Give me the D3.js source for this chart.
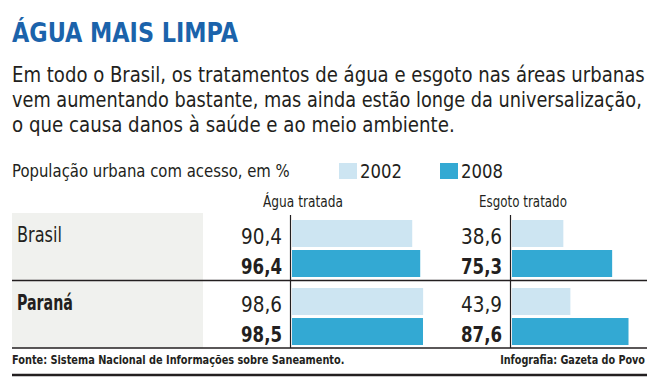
<!DOCTYPE html>
<html>
<head>
<meta charset="utf-8">
<title>Água mais limpa</title>
<script src="https://cdn.jsdelivr.net/npm/d3@7/dist/d3.min.js"></script>
<style>
  body { margin: 0; background: #fff; }
  svg text { font-family: "Liberation Sans Narrow", "DejaVu Sans Condensed", Roboto, "Open Sans", sans-serif; fill: #231f20; }
</style>
</head>
<body>
<script>
// Data
var regions = ["Brasil", "Paraná"];
var years = ["2002", "2008"];
var agua2002 = [90.4, 98.6];
var agua2008 = [96.4, 98.5];
var esgoto2002 = [38.6, 43.9];
var esgoto2008 = [75.3, 87.6];
var panels = ["Água tratada", "Esgoto tratado"];

var width = 660, height = 385;
var light = "#cde5f2", dark = "#33a9d3";

var br = d3.formatLocale({decimal: ",", thousands: ".", grouping: [3], currency: ["R$", ""]});
var fmt = br.format(".1f");

var svg = d3.select("body").append("svg")
    .attr("width", width)
    .attr("height", height);

// text helper: squeezes horizontally to a given width (condensed look of the original)
function txt(x, y, s, size, len, opts) {
    opts = opts || {};
    var t = svg.append("text")
        .attr("x", 0).attr("y", 0)
        .attr("font-size", size)
        .attr("font-weight", opts.weight || "normal")
        .attr("text-anchor", opts.anchor || "start")
        .style("fill", opts.color || "#231f20")
        .text(s);
    var k = 1;
    if (len) {
        var natural = t.node().getComputedTextLength();
        if (natural > 0) k = len / natural;
    }
    t.attr("transform", "translate(" + x + "," + y + ") scale(" + k + ",1)");
    return t;
}

// Header
txt(12, 42, "ÁGUA MAIS LIMPA", 27, 226, {weight: "bold", color: "#1b63ab"});
txt(12, 82, "Em todo o Brasil, os tratamentos de água e esgoto nas áreas urbanas", 22, 633);
txt(12, 107, "vem aumentando bastante, mas ainda estão longe da universalização,", 22, 630);
txt(12, 132, "o que causa danos à saúde e ao meio ambiente.", 22, 443);
txt(12, 177, "População urbana com acesso, em %", 17, 278);

// Legend
var legend = d3.scaleOrdinal().domain(years).range([339, 440]);
var color = d3.scaleOrdinal().domain(years).range([light, dark]);
years.forEach(function(y) {
    svg.append("rect")
        .attr("x", legend(y)).attr("y", 163)
        .attr("width", 18).attr("height", 16)
        .attr("fill", color(y));
    txt(legend(y) + 21, 178, y, 19, 42);
});

// Rows
var yRow = d3.scaleBand().domain(regions).range([213, 347]).paddingInner(0.03);
var yYear = d3.scaleBand().domain(years).range([7, 64]).paddingInner(0.1);

// grey label background
svg.append("rect")
    .attr("x", 12).attr("y", 213)
    .attr("width", 191).attr("height", 135)
    .attr("fill", "#f0f1ee");

regions.forEach(function(r, i) {
    txt(17, yRow(r) + 29, r, 21, r === "Brasil" ? 45 : 56, {weight: i === 1 ? "bold" : "normal"});
});

var x = d3.scaleLinear().domain([0, 100]).range([0, 133]);
var panelX = d3.scaleOrdinal().domain(panels).range([292, 512]);
var panelData = [[agua2002, agua2008], [esgoto2002, esgoto2008]];

panels.forEach(function(p, pi) {
    var x0 = panelX(p);
    txt(x0 + 11, 207, p, 15, pi === 0 ? 80 : 88, {anchor: "middle"});

    var g = svg.append("g");
    regions.forEach(function(r, ri) {
        years.forEach(function(y, yi) {
            var v = panelData[pi][yi][ri];
            var top = yRow(r) + yYear(y);
            g.append("rect")
                .attr("x", x0)
                .attr("y", top)
                .attr("width", x(v))
                .attr("height", yYear.bandwidth())
                .attr("fill", color(y));
            txt(x0 - 10, top + yYear.bandwidth() - 3, fmt(v), 21, 41,
                {anchor: "end", weight: yi === 1 ? "bold" : "normal"});
        });
    });

    // axis line
    svg.append("line")
        .attr("x1", x0 - 1.5).attr("x2", x0 - 1.5)
        .attr("y1", 215).attr("y2", 348)
        .attr("stroke", "#231f20").attr("stroke-width", 1.2);
});

// separators
[280.5, 348].forEach(function(yy) {
    svg.append("line")
        .attr("x1", 12).attr("x2", 647)
        .attr("y1", yy).attr("y2", yy)
        .attr("stroke", "#231f20").attr("stroke-width", 1.5);
});
svg.append("line")
    .attr("x1", 12).attr("x2", 647)
    .attr("y1", 375).attr("y2", 375)
    .attr("stroke", "#231f20").attr("stroke-width", 2.5);

// Footer
txt(12, 364, "Fonte: Sistema Nacional de Informações sobre Saneamento.", 11.5, 333, {weight: "bold"});
txt(645, 364, "Infografia: Gazeta do Povo", 11.5, 145, {weight: "bold", anchor: "end"});
</script>
</body>
</html>
